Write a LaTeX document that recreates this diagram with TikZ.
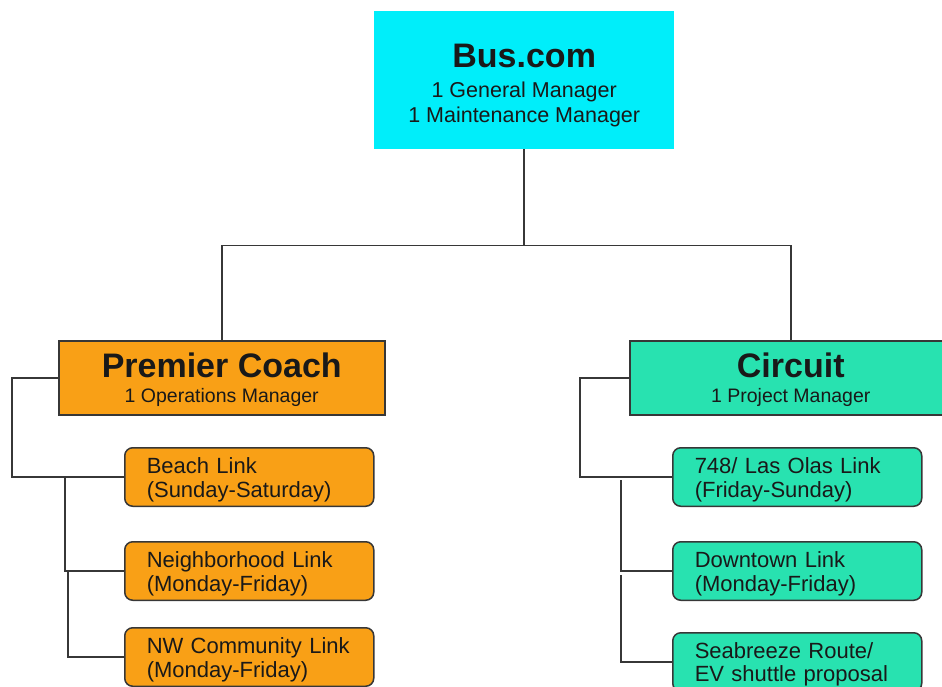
\documentclass[tikz,border=0pt]{standalone}
\usepackage{fontspec}
\setmainfont{Liberation Sans}
\usetikzlibrary{positioning, calc}
\definecolor{buscyan}{RGB}{0,238,250}
\definecolor{coachorange}{RGB}{249,160,22}
\definecolor{circuitteal}{RGB}{40,226,176}
\definecolor{linegray}{RGB}{55,55,55}
\begin{document}
\begin{tikzpicture}[
            x=1pt, y=-1pt,
            node distance=34pt,
            every node/.style={text=black!90},
            % Estilos de los bloques
            company/.style={rectangle, anchor=north west, inner sep=0pt, align=center, font=\fontsize{19.5}{25}\selectfont},
            route/.style={rectangle, rounded corners=8pt, draw=linegray, line width=1.5pt, minimum height=58.5pt, text width=205pt, inner xsep=22pt, inner ysep=0pt, align=left, font=\fontsize{22}{24}\selectfont, execute at begin node={\rule{0pt}{21pt}}},
            link/.style={draw=linegray, line width=1.5pt}
        ]
            \useasboundingbox (0,0) rectangle (942,686);

            % Nodos principales
            \node (bus) [company, fill=buscyan, minimum width=300pt, minimum height=138pt, font=\fontsize{21.5}{25}\selectfont] at (374,11)
                {{\fontsize{34}{34}\selectfont\bfseries\rule{0pt}{35pt}Bus.com}\\[5pt]1 General Manager\\1 Maintenance Manager};

            \node (premier) [company, fill=coachorange, draw=linegray, line width=1.5pt, minimum width=326pt, minimum height=74pt] at (58,340)
                {{\fontsize{34}{34}\selectfont\bfseries\rule{0pt}{29pt}Premier Coach}\\1 Operations Manager};

            \node (circuit) [company, fill=circuitteal, draw=linegray, line width=1.5pt, minimum width=322pt, minimum height=74pt] at (629,340)
                {{\fontsize{34}{34}\selectfont\bfseries\rule{0pt}{29pt}Circuit}\\1 Project Manager};

            % Rutas de Premier Coach
            \node (beach) [route, fill=coachorange, anchor=north west] at (124,447) {Beach Link\\(Sunday-Saturday)};
            \node (hood) [route, fill=coachorange, below=34pt of beach] {Neighborhood Link\\(Monday-Friday)};
            \node (nw) [route, fill=coachorange, below=26pt of hood] {NW Community Link\\(Monday-Friday)};

            % Rutas de Circuit
            \node (olas) [route, fill=circuitteal, anchor=north west] at (672,447) {748/ Las Olas Link\\(Friday-Sunday)};
            \node (downtown) [route, fill=circuitteal, below=34pt of olas] {Downtown Link\\(Monday-Friday)};
            \node (seabreeze) [route, fill=circuitteal, below=31pt of downtown, font=\fontsize{22}{23}\selectfont] {Seabreeze Route/\\EV shuttle proposal};

            % Conexiones desde Bus.com
            \draw [link] (bus.south) -- ++(0,96) coordinate (split);
            \draw [link] (split) -| (premier.north);
            \draw [link] (split) -| (circuit.north);

            % Conexiones de Premier Coach
            \draw [link] (premier.west) -- ++(-46,0) |- (beach.west);
            \draw [link] ($(beach.west)+(-59,0)$) |- (hood.west);
            \draw [link] ($(hood.west)+(-56,0)$) |- (nw.west);

            % Conexiones de Circuit
            \draw [link] (circuit.west) -- ++(-49,0) |- (olas.west);
            \draw [link] ($(olas.west)+(-51,3)$) |- (downtown.west);
            \draw [link] ($(downtown.west)+(-51,4)$) |- (seabreeze.west);

        \end{tikzpicture}
\end{document}
